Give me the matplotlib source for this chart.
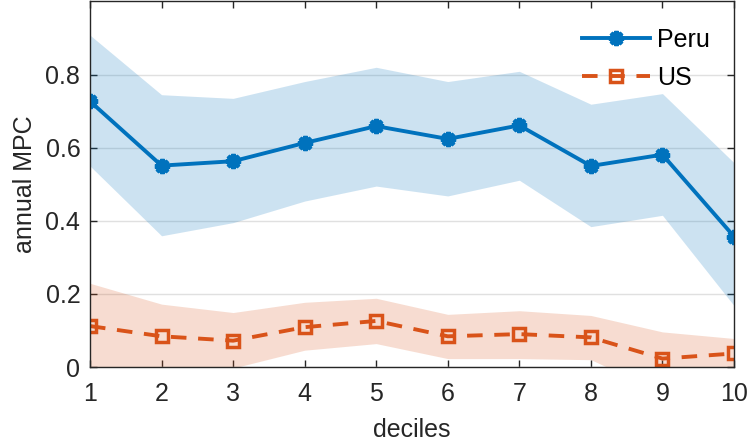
import matplotlib
matplotlib.use("Agg")
import matplotlib.pyplot as plt
import numpy as np

deciles = [1, 2, 3, 4, 5, 6, 7, 8, 9, 10]
peru = [0.727, 0.551, 0.563, 0.613, 0.659, 0.624, 0.661, 0.550, 0.581, 0.357]
peru_hi = [0.908, 0.745, 0.735, 0.781, 0.820, 0.781, 0.809, 0.719, 0.748, 0.559]
peru_lo = [0.550, 0.359, 0.395, 0.454, 0.495, 0.468, 0.511, 0.384, 0.415, 0.168]
us = [0.112, 0.084, 0.072, 0.109, 0.126, 0.084, 0.090, 0.081, 0.023, 0.037]
us_hi = [0.229, 0.172, 0.149, 0.177, 0.188, 0.144, 0.154, 0.141, 0.096, 0.078]
us_lo = [-0.005, -0.02, -0.003, 0.046, 0.064, 0.023, 0.023, 0.020, -0.070, -0.010]
yticks = [0, 0.2, 0.4, 0.6, 0.8]
yticklabels = ["0", "0.2", "0.4", "0.6", "0.8"]

plt.rcParams['font.family'] = ['Liberation Sans', 'DejaVu Sans']

blue = (0, 0.447, 0.741)
orange = (0.85, 0.325, 0.098)
dark = (0.15, 0.15, 0.15)

fig = plt.figure(figsize=(7.49, 4.48), dpi=100)
ax_l, ax_r, ax_t, ax_b = 90, 734, 1.5, 367
ax = fig.add_axes([ax_l/749, 1 - ax_b/448, (ax_r-ax_l)/749, (ax_b-ax_t)/448])

ax.fill_between(deciles, peru_lo, peru_hi, color=blue, alpha=0.2, linewidth=0)
ax.fill_between(deciles, us_lo, us_hi, color=orange, alpha=0.2, linewidth=0)
ax.plot(deciles, peru, '-', color=blue, lw=2.8, marker=(8, 2, 0), ms=11, mew=3, label='Peru')
ax.plot(deciles, us, '--', color=orange, lw=2.8, marker='s', ms=9, mew=2.5,
        mfc='none', dashes=(4, 3), label='US')

ax.set_xlim(1, 10)
ax.set_ylim(0, 1.0)
ax.set_xticks(deciles)
ax.set_yticks(yticks)
ax.set_yticklabels(yticklabels)
ax.grid(axis='y', color=(0.88, 0.88, 0.88), lw=1)
ax.set_axisbelow(True)
ax.tick_params(direction='in', top=True, right=True, labelsize=18, length=5,
               width=1, colors=dark)
ax.tick_params(axis='y', pad=7)
ax.tick_params(axis='x', pad=11)
for s in ax.spines.values():
    s.set_color(dark)
    s.set_linewidth(1)
ax.set_xlabel('deciles', fontsize=18, color=dark)
ax.set_ylabel('annual MPC', fontsize=18, color=dark)
w = ax_r - ax_l
h = ax_b - ax_t
ax.xaxis.set_label_coords((412 - ax_l)/w, (ax_b - 418)/h)
ax.yaxis.set_label_coords((37 - ax_l)/w, (ax_b - 184)/h)

leg = ax.legend(loc='upper right', frameon=False, fontsize=18, handlelength=2.7,
                handletextpad=0.3, borderaxespad=0, borderpad=0, labelspacing=0.57,
                bbox_to_anchor=((710 - ax_l)/w, (ax_b - 28)/h))

fig.savefig('out.png', dpi=100)
